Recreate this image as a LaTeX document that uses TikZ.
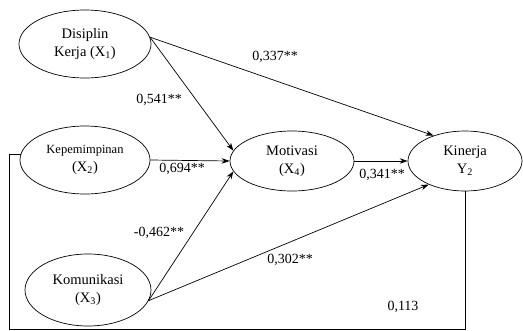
\documentclass[tikz,border=0pt]{standalone}
\usepackage{fontspec}
\setmainfont{Liberation Serif}
\usetikzlibrary{shapes.geometric,arrows.meta}
\begin{document}
\begin{tikzpicture}[x=1pt,y=-1pt,
  var/.style={ellipse,draw,line width=0.7pt,inner sep=0pt,align=center,
    font=\fontsize{14.5}{17.5}\selectfont},
  conn/.style={line width=0.7pt,-{Stealth[length=8pt,width=5.5pt]}},
  plain/.style={line width=0.7pt},
  coef/.style={font=\fontsize{14}{16}\selectfont,inner sep=0pt}]
\useasboundingbox (0,0) rectangle (523,330);
\node[var,minimum width=132pt,minimum height=68pt] (dis) at (85,44)
  {Disiplin\\Kerja (X\textsubscript{1})};
\node[var,minimum width=130pt,minimum height=68pt] (kep) at (85,160)
  {{\fontsize{12.5}{17.5}\selectfont Kepemimpinan}\\(X\textsubscript{2})};
\node[var,minimum width=126pt,minimum height=72pt] (kom) at (88,290)
  {Komunikasi\\(X\textsubscript{3})};
\node[var,minimum width=124pt,minimum height=60pt] (mot) at (292,161)
  {Motivasi\\(X\textsubscript{4})};
\node[var,minimum width=114pt,minimum height=60pt] (kin) at (465,161)
  {Kinerja\\Y\textsubscript{2}};
\draw[conn] (dis.6) -- (mot.170);
\draw[conn] (dis.6) -- (kin.141);
\draw[conn] (kep.east) -- (mot.west);
\draw[conn] (kom.-10) -- (mot.190);
\draw[conn] (kom.-10) -- (kin.213);
\draw[conn] (mot.east) -- (kin.west);
\coordinate (bl) at (9,329);
\coordinate (br) at (kin.south |- bl);
\draw[plain] (kin.south) -- (br) -- (bl) |- (kep.175);
\node[coef] (l1) at (275,57) {0,337**};
\node[coef] (l2) at (159,100) {0,541**};
\node[coef] (l3) at (182,169) {0,694**};
\node[coef] (l4) at (159,233) {-0,462**};
\node[coef] (l5) at (382,175) {0,341**};
\node[coef] (l6) at (290,260) {0,302**};
\node[coef] (l7) at (403,307) {0,113};
\end{tikzpicture}
\end{document}
